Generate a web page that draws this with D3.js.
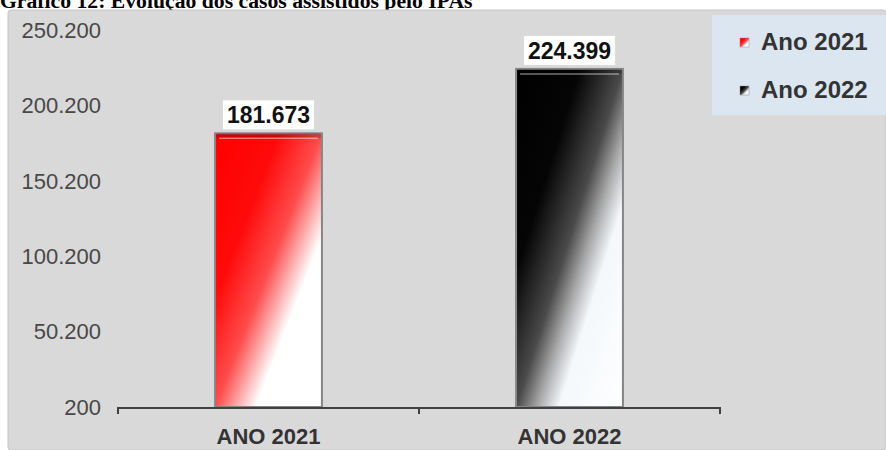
<!DOCTYPE html>
<html>
<head>
<meta charset="utf-8">
<script src="https://cdn.jsdelivr.net/npm/d3@7"></script>
<style>
  html, body { margin: 0; padding: 0; background: #ffffff; }
  svg { display: block; }
</style>
</head>
<body>
<svg id="chart" width="886" height="450"></svg>
<script>
// Casos assistidos por ano
const categories = ["ANO 2021", "ANO 2022"];
const seriesNames = ["Ano 2021", "Ano 2022"];
const values = [181673, 224399];
const yTickValues = [200, 50200, 100200, 150200, 200200, 250200];
const titleText = "Gráfico 12: Evolução dos casos assistidos pelo IPAs";

const ptBR = d3.formatLocale({ decimal: ",", thousands: ".", grouping: [3], currency: ["R$ ", ""] });
const fmt = ptBR.format(",d");

const W = 886, H = 450;
const sans = "Arial, Liberation Sans, sans-serif";
const svg = d3.select("#chart");
const defs = svg.append("defs");

// bar fills: dark colour at the top-left fading to white at the bottom-right
const gradients = [
  { id: "gRed",   stops: [[0, "#ff0000"], [0.3, "#ff0a0a"], [0.5, "#ff4c4c"], [0.6, "#ffaaaa"], [0.69, "#ffffff"], [1, "#ffffff"]] },
  { id: "gBlack", stops: [[0, "#000000"], [0.3, "#050505"], [0.5, "#4a4a4a"], [0.6, "#a8a8a8"], [0.7, "#f4f8fb"], [1, "#ffffff"]] }
];
gradients.forEach(g => {
  const lg = defs.append("linearGradient").attr("id", g.id)
    .attr("x1", 0).attr("y1", 0).attr("x2", 1).attr("y2", 1);
  g.stops.forEach(s => lg.append("stop").attr("offset", s[0]).attr("stop-color", s[1]));
});
const fills = ["url(#gRed)", "url(#gBlack)"];

// title (sits above the panel)
svg.append("text")
  .attr("x", 0).attr("y", 8)
  .attr("font-family", "Liberation Serif, Times New Roman, serif")
  .attr("font-weight", "bold").attr("font-size", 21.7)
  .attr("fill", "#000")
  .text(titleText);

// panel
svg.append("rect")
  .attr("x", 8).attr("y", 10).attr("width", W - 8).attr("height", H - 10)
  .attr("rx", 3)
  .attr("fill", "#d9d9d9").attr("stroke", "#c4c4c4").attr("stroke-width", 1);

const y = d3.scaleLinear().domain([200, 250200]).range([407, 30]);
const xAxisScale = d3.scaleBand().domain(categories).range([118, 720]).padding(0);
const x = d3.scaleBand().domain(categories).range([118, 720])
  .paddingInner(0.645).paddingOuter(0.3225);

// y tick labels
svg.append("g")
  .selectAll("text").data(yTickValues).join("text")
  .attr("x", 101).attr("y", d => y(d))
  .attr("dy", "0.35em")
  .attr("text-anchor", "end")
  .attr("font-family", sans)
  .attr("font-size", 22).attr("fill", "#484848")
  .text(d => fmt(d));

// bars
const bars = svg.append("g");
categories.forEach((c, i) => {
  const bx = x(c), bw = x.bandwidth(), by = y(values[i]), bh = y(200) - by;
  bars.append("rect")
    .attr("x", bx).attr("y", by).attr("width", bw).attr("height", bh)
    .attr("fill", fills[i])
    .attr("stroke", "#858585").attr("stroke-width", 2);
  // top bevel
  bars.append("rect")
    .attr("x", bx + 1).attr("y", by).attr("width", bw - 2).attr("height", 5)
    .attr("rx", 2)
    .attr("fill", "#000").attr("fill-opacity", 0.18);
  bars.append("line")
    .attr("x1", bx + 4).attr("x2", bx + bw - 4)
    .attr("y1", by + 5).attr("y2", by + 5)
    .attr("stroke", "#ffffff").attr("stroke-opacity", 0.45).attr("stroke-width", 1.5);
});

// x axis: baseline, boundary ticks, category labels
const axisG = svg.append("g");
const x0 = xAxisScale.range()[0], x1 = xAxisScale.range()[1];
axisG.append("line")
  .attr("x1", x0).attr("x2", x1).attr("y1", y(200) + 1).attr("y2", y(200) + 1)
  .attr("stroke", "#404040").attr("stroke-width", 2);
const boundaries = categories.map(c => xAxisScale(c)).concat([x1]);
axisG.selectAll("line.tick").data(boundaries).join("line")
  .attr("class", "tick")
  .attr("x1", d => d).attr("x2", d => d)
  .attr("y1", y(200)).attr("y2", y(200) + 7)
  .attr("stroke", "#404040").attr("stroke-width", 2);
axisG.selectAll("text").data(categories).join("text")
  .attr("x", d => xAxisScale(d) + xAxisScale.bandwidth() / 2)
  .attr("y", 444)
  .attr("text-anchor", "middle")
  .attr("font-family", sans)
  .attr("font-weight", "bold").attr("font-size", 22).attr("fill", "#333")
  .text(d => d);

// value labels in white boxes
categories.forEach((c, i) => {
  const cx = x(c) + x.bandwidth() / 2;
  const by = y(values[i]);
  const g = svg.append("g");
  const r = g.append("rect").attr("fill", "#ffffff");
  const t = g.append("text")
    .attr("x", cx).attr("y", by - 10)
    .attr("text-anchor", "middle")
    .attr("font-family", sans)
    .attr("font-weight", "bold").attr("font-size", 23).attr("fill", "#111")
    .text(fmt(values[i]));
  const tw = t.node().getComputedTextLength();
  r.attr("x", cx - tw / 2 - 4).attr("y", by - 33).attr("width", tw + 8).attr("height", 29);
});

// legend
const leg = svg.append("g");
leg.append("rect")
  .attr("x", 712).attr("y", 15).attr("width", W - 712).attr("height", 100)
  .attr("fill", "#dce6f0");
seriesNames.forEach((s, i) => {
  const base = 50 + i * 48;
  leg.append("rect")
    .attr("x", 740).attr("y", base - 12).attr("width", 9).attr("height", 9)
    .attr("fill", fills[i]).attr("stroke", "#888").attr("stroke-width", 0.5);
  leg.append("text")
    .attr("x", 761).attr("y", base)
    .attr("font-family", sans)
    .attr("font-weight", "bold").attr("font-size", 24).attr("fill", "#333")
    .text(s);
});
</script>
</body>
</html>
